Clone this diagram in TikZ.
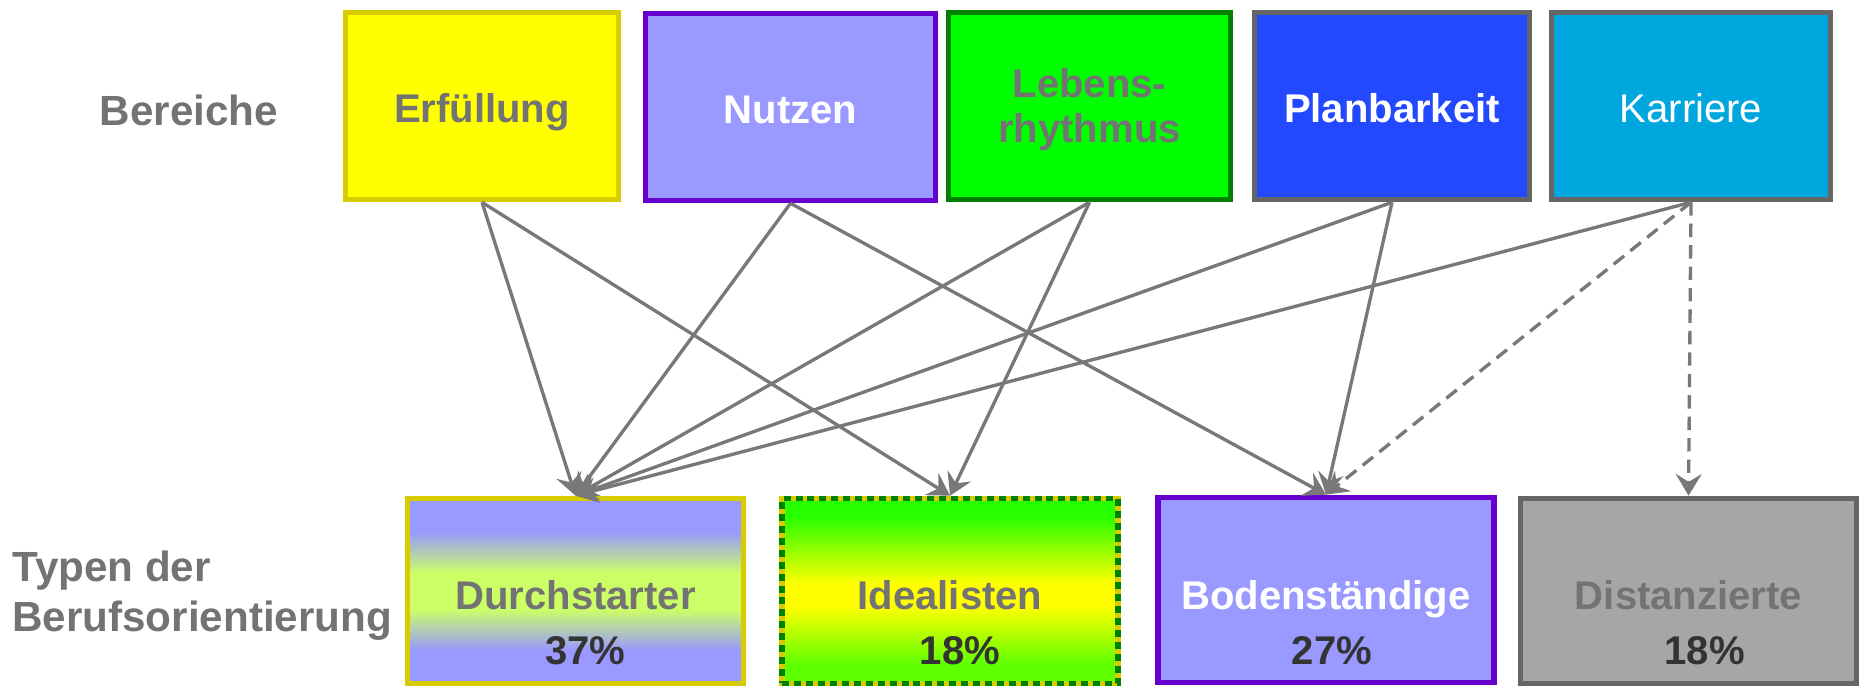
\documentclass[tikz,border=0pt]{standalone}
\usepackage{fontspec}
\setmainfont{Liberation Sans}
\usetikzlibrary{arrows.meta}

\definecolor{txtgray}{RGB}{115,115,115}
\definecolor{pctgray}{RGB}{51,51,51}
\definecolor{linegray}{RGB}{120,120,120}
\definecolor{framegray}{RGB}{102,102,102}
\definecolor{gelb}{RGB}{255,255,0}
\definecolor{gelbrand}{RGB}{214,204,0}
\definecolor{lila}{RGB}{153,153,255}
\definecolor{lilarand}{RGB}{102,0,204}
\definecolor{gruen}{RGB}{0,255,0}
\definecolor{gruenrand}{RGB}{0,128,0}
\definecolor{blau}{RGB}{35,73,255}
\definecolor{hellblau}{RGB}{0,166,222}
\definecolor{grau}{RGB}{166,166,166}
\definecolor{limette}{RGB}{204,255,102}
\definecolor{hellgruen}{RGB}{40,255,0}

% shadings for the two mixed types
\pgfdeclareverticalshading{durchverlauf}{100bp}{color(0bp)=(lila); color(34bp)=(lila); color(45.2bp)=(limette); color(54.8bp)=(limette); color(66bp)=(lila); color(100bp)=(lila)}
\pgfdeclareverticalshading{idealverlauf}{100bp}{color(0bp)=(hellgruen!75!gelb); color(30bp)=(hellgruen!75!gelb); color(46bp)=(gelb); color(52bp)=(gelb); color(70bp)=(hellgruen); color(100bp)=(hellgruen)}

\newcommand{\schrift}{\fontsize{11.4}{12.8}\selectfont}
\newcommand{\labelschrift}{\fontsize{12}{14.2}\selectfont}

\tikzset{
	bereich/.style={draw, line width=1.6pt, minimum height=1.87cm, align=center, font=\schrift\bfseries, text=txtgray},
	einzeilig/.style={text height=0.33cm, text depth=0cm},
	typ/.style={draw, line width=1.6pt, minimum width=3.36cm, minimum height=1.85cm},
	typtext/.style={align=center, font=\schrift\bfseries, text=txtgray},
	pfeil/.style={draw=linegray, line width=0.95pt, -{Stealth[length=6.2pt,width=7.4pt,inset=2.3pt]}},
	pfeilgestr/.style={pfeil, dash pattern=on 3.8pt off 2.3pt}
}

\begin{document}
\begin{tikzpicture}

	\useasboundingbox (0,0) rectangle (18.66,6.88);

	% labels
	\node[font=\labelschrift\bfseries, text=txtgray] (bereiche) at (1.89,5.78) {Bereiche};
	\node[font=\labelschrift\bfseries, text=txtgray, align=left, anchor=west] (typen) at (0.0,0.92) {Typen der\\Berufsorientierung};

	% Bereiche
	\node[bereich, einzeilig, fill=gelb, draw=gelbrand, minimum width=2.73cm] (erf) at (4.82,5.82) {Erfüllung};
	\node[bereich, einzeilig, fill=lila, draw=lilarand, minimum width=2.90cm, text=white] (nutz) at (7.905,5.81) {Nutzen};
	\node[bereich, text depth=0cm, fill=gruen, draw=gruenrand, minimum width=2.82cm] (leb) at (10.895,5.82) {Lebens-\\rhythmus};
	\node[bereich, einzeilig, fill=blau, draw=framegray, minimum width=2.75cm, text=white] (plan) at (13.92,5.82) {Planbarkeit};
	\node[bereich, einzeilig, fill=hellblau, draw=framegray, minimum width=2.79cm, text=white, font=\schrift] (karr) at (16.91,5.82) {Karriere};

	% Typen
	\node[typ, draw=gelbrand, shading=durchverlauf] (durch) at (5.755,0.97) {};
	\node[typ, draw=gelbrand, shading=idealverlauf,
		postaction={draw=gruenrand, line width=1.6pt, dash pattern=on 2pt off 1.4pt}] (ideal) at (9.50,0.97) {};
	\node[typ, fill=lila, draw=lilarand] (boden) at (13.26,0.98) {};
	\node[typ, fill=grau, draw=framegray] (dist) at (16.885,0.97) {};

	% Typen texts
	\node[typtext] (durchtxt) at (5.755,0.655) {Durchstarter\\[2.8pt]\hspace*{0.5em}\textcolor{pctgray}{37\%}};
	\node[typtext] (idealtxt) at (9.50,0.655) {Idealisten\\[2.8pt]\hspace*{0.5em}\textcolor{pctgray}{18\%}};
	\node[typtext, text=white] (bodentxt) at (13.26,0.655) {Bodenständige\\[2.8pt]\hspace*{0.3em}\textcolor{pctgray}{27\%}};
	\node[typtext] (disttxt) at (16.885,0.655) {Distanzierte\\[2.8pt]\hspace*{0.8em}\textcolor{pctgray}{18\%}};

	% draw arrows
	\draw[pfeil] (erf.south) -- (durch.north);
	\draw[pfeil] (erf.south) -- (ideal.north);
	\draw[pfeil] (nutz.south) -- (durch.north);
	\draw[pfeil] (nutz.south) -- (boden.north);
	\draw[pfeil] (leb.south) -- (durch.north);
	\draw[pfeil] (leb.south) -- (ideal.north);
	\draw[pfeil] (plan.south) -- (durch.north);
	\draw[pfeil] (plan.south) -- (boden.north);
	\draw[pfeil] (karr.south) -- (durch.north);
	\draw[pfeilgestr] (karr.south) -- (boden.north);
	\draw[pfeilgestr] (karr.south) -- (dist.north);

\end{tikzpicture}
\end{document}
